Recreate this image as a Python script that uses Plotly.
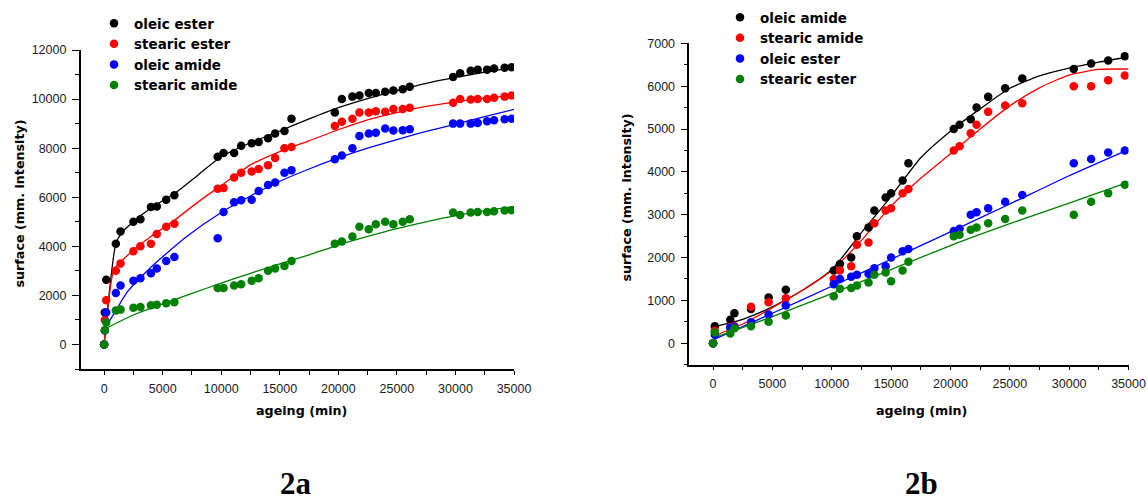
import plotly.graph_objects as go

W, H = 1148, 501

# ---------------- Chart 2a data ----------------
t_a = [0, 60, 180, 1000, 1400, 2500, 3100, 4000, 4500, 5300, 6000, 9700, 10200, 11100, 11700,
       12600, 13200, 14000, 14600, 15400, 16000, 19700, 20300, 21200, 21800, 22600, 23200, 24000,
       24700, 25500, 26100, 29800, 30400, 31300, 31900, 32700, 33300, 34200, 34800]
a_oleic_ester = [0, 1300, 2640, 4100, 4600, 5000, 5100, 5600, 5620, 5900, 6080, 7650, 7800, 7800, 8100,
                 8200, 8250, 8400, 8600, 8700, 9200, 9450, 10000, 10100, 10150, 10250, 10250, 10300,
                 10350, 10400, 10500, 10900, 11050, 11150, 11200, 11200, 11250, 11280, 11300]
a_stearic_ester = [0, 1000, 1800, 3000, 3300, 3800, 4000, 4100, 4500, 4800, 4920, 6350, 6380, 6800, 7000,
                   7050, 7150, 7300, 7600, 8000, 8050, 8900, 9080, 9200, 9450, 9450, 9500, 9480,
                   9600, 9600, 9650, 9850, 10000, 9980, 10000, 10000, 10050, 10100, 10150]
a_oleic_amide = [0, 570, 1300, 2100, 2400, 2600, 2700, 2900, 3100, 3400, 3560, 4330, 5400, 5800, 5880,
                 5900, 6250, 6500, 6600, 7000, 7100, 7550, 7700, 8000, 8500, 8600, 8630, 8800,
                 8720, 8730, 8770, 9000, 9000, 9000, 9030, 9100, 9140, 9180, 9200]
a_stearic_amide = [0, 580, 900, 1380, 1420, 1500, 1530, 1600, 1620, 1680, 1720, 2300, 2300, 2400, 2450,
                   2600, 2700, 3000, 3100, 3200, 3400, 4100, 4200, 4400, 4800, 4700, 4900, 5000,
                   4900, 5000, 5100, 5380, 5280, 5380, 5400, 5400, 5430, 5460, 5470]

# fitted curves
fa_black_x = [0, 1000, 1500, 2500, 4000, 6000, 8000, 10000, 12500, 15000, 17500, 20000, 22500, 25000, 27500, 30000, 32500, 35000]
fa_black_y = [0, 4100, 4550, 5000, 5560, 6150, 6900, 7650, 8220, 8700, 9190, 9650, 10020, 10340, 10640, 10880, 11100, 11290]
fa_red_x = [0, 850, 1500, 2500, 4000, 6000, 8000, 10000, 12500, 15000, 17500, 20000, 22500, 25000, 27500, 30000, 32500, 35000]
fa_red_y = [0, 3080, 3400, 3850, 4400, 5060, 5800, 6480, 7320, 7860, 8300, 8750, 9150, 9450, 9700, 9890, 10040, 10160]
fa_blue_x = [0, 1000, 2000, 4000, 7000, 10000, 12500, 15000, 17500, 20000, 22500, 25000, 27500, 30000, 32500, 35000]
fa_blue_y = [600, 1380, 2150, 3150, 4380, 5380, 6050, 6650, 7150, 7600, 8000, 8350, 8680, 8980, 9280, 9580]
fa_green_x = [0, 2500, 5000, 7500, 10000, 12500, 15000, 17500, 20000, 22500, 25000, 27500, 30000, 32500, 35000]
fa_green_y = [620, 1200, 1650, 2080, 2500, 2900, 3280, 3650, 4050, 4400, 4720, 5000, 5250, 5450, 5620]

# ---------------- Chart 2b data ----------------
t_b = [0, 150, 1450, 1800, 3200, 4680, 6130, 10170, 10690, 11640, 12120, 13100, 13590, 14540, 15000,
       15970, 16460, 20280, 20770, 21710, 22200, 23180, 24610, 26050, 30390, 31850, 33290, 34690]
b_oleic_amide = [0, 400, 550, 700, 800, 1070, 1250, 1700, 1850, 2000, 2500, 2700, 3100, 3400, 3500,
                 3800, 4200, 5000, 5100, 5230, 5500, 5750, 5950, 6180, 6400, 6530, 6600, 6700]
b_stearic_amide = [0, 290, 380, 400, 850, 960, 1050, 1500, 1700, 1800, 2300, 2350, 2800, 3100, 3150,
                   3500, 3600, 4500, 4600, 4900, 5100, 5400, 5550, 5600, 6000, 6000, 6140, 6250]
b_oleic_ester = [0, 200, 360, 380, 490, 670, 880, 1380, 1500, 1550, 1600, 1620, 1750, 1800, 2000,
                 2150, 2200, 2620, 2670, 3000, 3060, 3150, 3300, 3460, 4200, 4300, 4450, 4500]
b_stearic_ester = [0, 250, 230, 350, 400, 500, 650, 1100, 1270, 1290, 1350, 1420, 1600, 1650, 1450,
                   1700, 1900, 2500, 2530, 2650, 2700, 2800, 2900, 3100, 3000, 3300, 3500, 3700]

fb_x = [0, 2500, 5000, 7500, 10000, 12500, 15000, 17500, 20000, 22500, 25000, 27500, 30000, 32500, 35000]
fb_black_y = [380, 560, 850, 1230, 1720, 2580, 3430, 4330, 4950, 5470, 5950, 6240, 6420, 6560, 6680]
fb_red_y = [160, 450, 830, 1230, 1700, 2400, 3200, 3850, 4420, 5000, 5540, 5960, 6260, 6390, 6400]
fb_lin_x = [0, 5000, 10000, 15000, 20000, 25000, 30000, 35000]
fb_blue_y = [80, 700, 1330, 1960, 2600, 3250, 3910, 4520]
fb_green_y = [120, 620, 1160, 1720, 2280, 2790, 3270, 3760]

# ---------------- styling ----------------
BLACK, RED, BLUE, GREEN = "#000000", "#ff0000", "#0000ff", "#008000"
MS = 8.5
LW = 1.3


def px_x(p):
    return p / W


def px_y(p):
    return 1 - p / H


fig = go.Figure()

left_series = [("oleic ester", a_oleic_ester, BLACK, fa_black_x, fa_black_y),
               ("stearic ester", a_stearic_ester, RED, fa_red_x, fa_red_y),
               ("oleic amide", a_oleic_amide, BLUE, fa_blue_x, fa_blue_y),
               ("stearic amide", a_stearic_amide, GREEN, fa_green_x, fa_green_y)]
for name, ys, col, fx, fy in left_series:
    fig.add_trace(go.Scatter(x=fx, y=fy, mode="lines", line=dict(color=col, width=LW, shape="spline", smoothing=0.6),
                             showlegend=False, xaxis="x", yaxis="y", hoverinfo="skip"))
for name, ys, col, fx, fy in left_series:
    fig.add_trace(go.Scatter(x=t_a, y=ys, mode="markers", name=name,
                             marker=dict(color=col, size=MS, line=dict(width=0)),
                             xaxis="x", yaxis="y", legend="legend"))

right_series = [("oleic amide", b_oleic_amide, BLACK, fb_x, fb_black_y),
                ("stearic amide", b_stearic_amide, RED, fb_x, fb_red_y),
                ("oleic ester", b_oleic_ester, BLUE, fb_lin_x, fb_blue_y),
                ("stearic ester", b_stearic_ester, GREEN, fb_lin_x, fb_green_y)]
for name, ys, col, fx, fy in right_series:
    fig.add_trace(go.Scatter(x=fx, y=fy, mode="lines", line=dict(color=col, width=LW, shape="spline", smoothing=0.6),
                             showlegend=False, xaxis="x2", yaxis="y2", hoverinfo="skip"))
for name, ys, col, fx, fy in right_series:
    fig.add_trace(go.Scatter(x=t_b, y=ys, mode="markers", name=name,
                             marker=dict(color=col, size=MS, line=dict(width=0)),
                             xaxis="x2", yaxis="y2", legend="legend2"))

tickfont = dict(family="Liberation Sans, Arial, sans-serif", size=12.5, color="#1a1a1a")
common_x = dict(showgrid=False, zeroline=False, showline=True, linecolor="black", linewidth=1.5,
                ticks="outside", ticklen=4, tickwidth=1.2, tickcolor="black", tickfont=tickfont,
                dtick=5000, tick0=0, ticklabelstandoff=3, tickformat="d",
                minor=dict(dtick=2500, ticks="outside", ticklen=4, tickwidth=1.2, tickcolor="black"))
common_y = dict(showgrid=False, zeroline=False, showline=True, linecolor="black", linewidth=1.5,
                ticks="outside", ticklen=7, tickwidth=1.2, tickcolor="black", tickfont=tickfont,
                tick0=0, ticklabelstandoff=3, tickformat="d")

legend_font = dict(family="DejaVu Sans, Verdana, sans-serif", size=13.5, color="black", weight="bold")

fig.update_layout(
    width=W, height=H,
    margin=dict(l=0, r=0, t=0, b=0, autoexpand=False),
    paper_bgcolor="white", plot_bgcolor="white",
    xaxis=dict(domain=[px_x(80.7), px_x(514)], range=[-2000, 35000], anchor="y", **common_x),
    yaxis=dict(domain=[px_y(369), px_y(50)], range=[-1000, 12000], anchor="x", dtick=2000,
               minor=dict(dtick=1000, ticks="outside", ticklen=4, tickwidth=1.2, tickcolor="black"), **common_y),
    xaxis2=dict(domain=[px_x(689.3), px_x(1128.5)], range=[-2000, 35000], anchor="y2", **common_x),
    yaxis2=dict(domain=[px_y(364.7), px_y(43.3)], range=[-500, 7000], anchor="x2", dtick=1000,
                minor=dict(dtick=500, ticks="outside", ticklen=4, tickwidth=1.2, tickcolor="black"), **common_y),
    legend=dict(x=px_x(94), y=px_y(8), xanchor="left", yanchor="top", bgcolor="rgba(0,0,0,0)",
                font=legend_font, itemwidth=30, tracegroupgap=0),
    legend2=dict(x=px_x(720), y=px_y(2), xanchor="left", yanchor="top", bgcolor="rgba(0,0,0,0)",
                 font=legend_font, itemwidth=30, tracegroupgap=0),
    showlegend=True,
)

title_font = dict(family="DejaVu Sans, Verdana, sans-serif", size=12.7, color="black", weight="bold")
label_font = dict(family="Liberation Serif, Times New Roman, serif", size=31, color="black", weight="bold")
annots = [
    dict(text="ageing (min)", x=px_x(301), y=px_y(410), font=title_font, yanchor="middle"),
    dict(text="surface (mm. intensity)", x=px_x(18.5), y=px_y(204), font=title_font, textangle=-90, yanchor="middle"),
    dict(text="ageing (min)", x=px_x(921), y=px_y(410), font=title_font, yanchor="middle"),
    dict(text="surface (mm. intensity)", x=px_x(625.5), y=px_y(198), font=title_font, textangle=-90, yanchor="middle"),
    dict(text="2a", x=px_x(296), y=px_y(503), font=label_font, yanchor="bottom"),
    dict(text="2b", x=px_x(921), y=px_y(503), font=label_font, yanchor="bottom"),
]
for a in annots:
    fig.add_annotation(xref="paper", yref="paper", showarrow=False, xanchor="center", **a)

fig.write_html("out.html", config={"displayModeBar": False},
               post_script="document.body.style.margin='0px';document.body.style.overflow='hidden';")
